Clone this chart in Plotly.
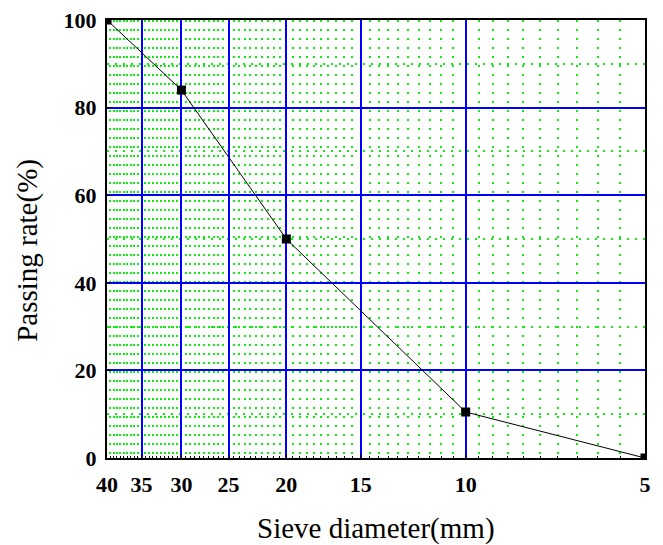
import numpy as np
import plotly.graph_objects as go

# Data
sieve_mm = [40, 30, 20, 10, 5]
passing_pct = [100, 84, 50, 10.5, 0]

x_ticks = [40, 35, 30, 25, 20, 15, 10, 5]
y_ticks = [0, 20, 40, 60, 80, 100]
x_minor = [v / 2 for v in range(10, 81) if (v / 2) not in x_ticks]
y_minor = [10, 30, 50, 70, 90]

font_fam = "Liberation Serif, Times New Roman, serif"

fig = go.Figure()
fig.add_trace(go.Scatter(
    x=sieve_mm, y=passing_pct, mode="lines+markers",
    line=dict(color="black", width=1),
    marker=dict(symbol="square", size=9, color="black"),
    showlegend=False,
))

fig.update_layout(
    width=655, height=537,
    margin=dict(l=99, r=18, t=12, b=87),
    paper_bgcolor="white", plot_bgcolor="white",
    font=dict(family=font_fam, color="black"),
)

fig.update_xaxes(
    type="log", automargin=False,
    range=[np.log10(40), np.log10(5)],
    tickmode="array", tickvals=x_ticks, ticktext=[str(v) for v in x_ticks],
    tickfont=dict(size=22, family="Liberation Serif", weight="bold"),
    ticklabelstandoff=6, ticklabeloverflow="allow",
    showgrid=True, gridcolor="#0000ff", gridwidth=2,
    showline=True, linecolor="black", linewidth=2, mirror=True,
    ticks="inside", ticklen=4, tickcolor="black",
    minor=dict(tickmode="array", tickvals=x_minor, showgrid=True,
               gridcolor="#11ee11", gridwidth=2, griddash="2px,7px",
               ticks="inside", ticklen=2, tickcolor="black"),
    zeroline=False,
)
fig.update_yaxes(
    range=[0, 100], automargin=False,
    tickmode="array", tickvals=y_ticks,
    tickfont=dict(size=22, family="Liberation Serif", weight="bold"),
    ticklabelstandoff=4, ticklabeloverflow="allow",
    showgrid=True, gridcolor="#0000ff", gridwidth=2,
    showline=True, linecolor="black", linewidth=2, mirror=True,
    ticks="inside", ticklen=4, tickcolor="black",
    minor=dict(tickmode="array", tickvals=y_minor, showgrid=True,
               gridcolor="#11ee11", gridwidth=2, griddash="2px,6px"),
    zeroline=False,
)

fig.add_annotation(text="Sieve diameter(mm)", xref="paper", yref="paper",
                   x=0.5, y=-0.16, yanchor="middle", xanchor="center",
                   showarrow=False, font=dict(size=29, family=font_fam))
fig.add_annotation(text="Passing rate(%)", xref="paper", yref="paper",
                   x=-0.147, y=0.475, yanchor="middle", xanchor="center",
                   textangle=-90, showarrow=False, font=dict(size=29, family=font_fam))

fig.write_html("out.html")
